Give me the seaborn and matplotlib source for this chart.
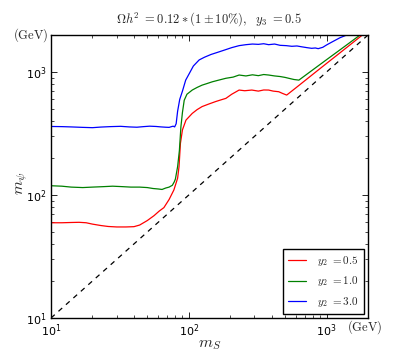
import seaborn as sns
import matplotlib
matplotlib.use("Agg")
import matplotlib.pyplot as plt
import pandas as pd

# m_S (GeV) and m_psi (GeV) for each y2 value
ms_05 = [10, 12, 14, 16, 18, 20, 23, 26, 30, 35, 40, 44, 50, 56, 61, 66, 72, 78, 83,
         85, 87, 90, 95.5, 106, 115, 125, 140, 157, 172, 186, 205, 232, 255, 287, 320,
         350, 380, 410, 450, 480, 514, 600, 700, 850, 1000, 1200, 1500, 1820]
mpsi_05 = [59.5, 59.5, 59.8, 60, 59.5, 58, 56.5, 55.5, 55, 55, 55.3, 57, 62, 68, 74, 79,
           92, 110, 137, 170, 263, 339, 407, 461, 495, 524, 550, 576, 595, 611, 660, 714,
           705, 714, 700, 715, 714, 700, 692, 670, 650, 745, 855, 1017, 1175, 1380, 1683, 2000]

ms_10 = [10, 12, 14, 17, 20, 24, 28, 33, 38, 44, 50, 55, 60, 64, 68, 72, 76, 78.5, 80,
         83, 85.5, 87.7, 90, 92.7, 97, 106, 115, 125, 135, 148, 165, 186, 210, 232, 260,
         290, 320, 350, 380, 420, 460, 500, 532, 580, 630, 800, 1000, 1200, 1450, 1750]
mpsi_10 = [119, 118, 116, 115, 116, 117, 118, 117, 116, 116, 115, 113, 112, 111, 114, 116,
           120, 128, 135, 170, 230, 359, 470, 590, 660, 714, 750, 783, 805, 833, 860, 890,
           910, 946, 930, 950, 935, 955, 946, 930, 920, 905, 890, 870, 860, 1048, 1260,
           1463, 1710, 2000]

ms_30 = [10, 12, 14, 17, 20, 23, 27, 32, 37, 42, 47, 52, 58, 63, 68, 72, 75, 77, 79, 81,
         83, 86, 90, 95, 101, 108, 119, 130, 145, 166, 185, 205, 232, 260, 290, 320, 350,
         380, 420, 460, 510, 560, 610, 660, 720, 780, 830, 870, 940, 1000, 1100, 1250, 1400]
mpsi_30 = [361, 360, 358, 355, 353, 357, 360, 362, 358, 356, 360, 363, 361, 358, 356, 355,
           360, 363, 358, 380, 480, 600, 700, 860, 975, 1120, 1255, 1320, 1390, 1460, 1520,
           1580, 1640, 1670, 1690, 1680, 1700, 1670, 1690, 1650, 1640, 1620, 1630, 1605,
           1580, 1560, 1570, 1550, 1590, 1660, 1760, 1900, 2000]

diag = [10, 2000]

sns.set_style("ticks")
plt.rcParams["font.family"] = ["DejaVu Sans"]
plt.rcParams["xtick.direction"] = "in"
plt.rcParams["ytick.direction"] = "in"

fig = plt.figure(figsize=(4.09, 3.54), dpi=100)
ax = fig.add_axes([0.1247, 0.1017, 0.775, 0.7993])

series = [(ms_05, mpsi_05, "red", r"$y_2\ =0.5$"),
          (ms_10, mpsi_10, "green", r"$y_2\ =1.0$"),
          (ms_30, mpsi_30, "blue", r"$y_2\ =3.0$")]
for xs, ys, col, lab in series:
    df = pd.DataFrame({"ms": xs, "mpsi": ys})
    sns.lineplot(data=df, x="ms", y="mpsi", color=col, lw=0.9, label=lab,
                 sort=False, estimator=None, ax=ax)

ax.plot(diag, diag, ls=(0, (4, 4)), color="black", lw=0.9)

ax.set_xscale("log")
ax.set_yscale("log")
ax.set_xlim(10, 2000)
ax.set_ylim(10, 2000)

for s in ax.spines.values():
    s.set_color("black")
    s.set_linewidth(1.0)
ax.tick_params(which="both", top=True, right=True, labelsize=8, colors="black")
ax.tick_params(which="major", length=4, width=0.6)
ax.tick_params(which="minor", length=2, width=0.5)

ax.set_xlabel(r"$m_S$", fontsize=11.5, math_fontfamily="cm")
ax.xaxis.set_label_coords(0.5, -0.068)
ax.set_ylabel(r"$m_\psi$", fontsize=11.5, math_fontfamily="cm")
ax.yaxis.set_label_coords(-0.066, 0.477)
ax.set_title(r"$\Omega h^2\ =0.12*(1\pm 10\%),\ \ y_3\ =0.5$", fontsize=9,
             math_fontfamily="cm", pad=9)

ax.text(-0.008, 1.0, r"$\mathrm{(GeV)}$", transform=ax.transAxes, ha="right",
        va="center", fontsize=9, math_fontfamily="cm")
ax.text(0.99, -0.033, r"$\mathrm{(GeV)}$", transform=ax.transAxes, ha="center",
        va="center", fontsize=9, math_fontfamily="cm")

leg = ax.legend(loc="lower right", fancybox=False, frameon=True, edgecolor="black",
                framealpha=1, fontsize=8, borderaxespad=0.35, handlelength=1.6,
                labelspacing=0.55, borderpad=0.5, handletextpad=1.0)
leg.get_frame().set_linewidth(1.0)
for t in leg.get_texts():
    t.set_math_fontfamily("cm")

fig.savefig("out.png", dpi=100)
